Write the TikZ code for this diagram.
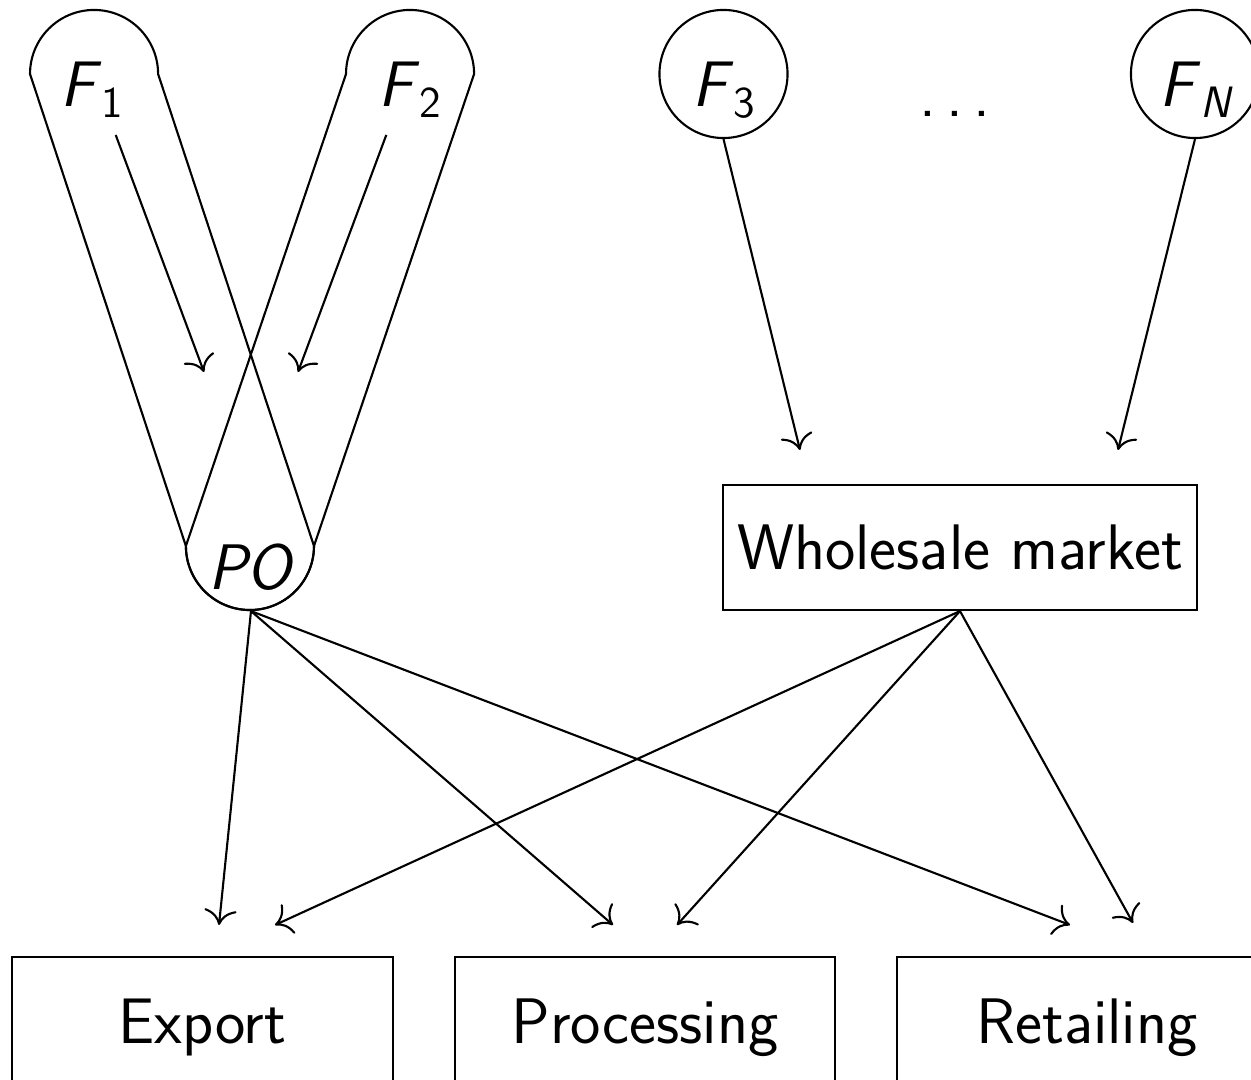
\documentclass[tikz,border=0pt]{standalone}
\usetikzlibrary{arrows.meta}
\newcommand\FF[1]{\textit{F}\raisebox{-0.17em}{\fontsize{12.5}{14}\selectfont #1}}
\begin{document}
\begin{tikzpicture}[x=0.01cm,y=0.01cm,line width=0.6pt,>={To[scale=1.5]},
  every node/.style={font=\fontsize{18.3}{22}\selectfont\sffamily},
  fnode/.style={circle,minimum size=1.28cm,inner sep=0pt},
  lab/.style={anchor=base,inner sep=0pt},
  outbox/.style={draw,minimum width=3.8cm,minimum height=1.56cm,inner sep=0pt,text height=0.7em,text depth=0.2em}]
\useasboundingbox (0,0) rectangle (1251,-1080);
% farmer circles
\node[fnode] (F1) at (93,-74) {};
\node[fnode] (F2) at (409,-74) {};
\node[fnode] (PO) at (251,-546) {};
\node[fnode,draw] (F3) at (723.5,-74) {};
\node[fnode,draw] (FN) at (1195,-74) {};
% labels
\node[lab] (F1t) at (92,-107) {\FF{1}};
\node[lab] (F2t) at (410,-107) {\FF{2}};
\node[lab] (F3t) at (724,-107) {\FF{3}};
\node[lab] (FNt) at (1196,-107) {\FF{\textit{N}}};
\node[lab] (POt) at (252,-590) {\textit{PO}};
\node[lab] (dots) at (955,-117) {.\kern3pt.\kern3pt.};
% capsules
\draw (F1.east) arc[start angle=0,end angle=180,radius=0.64cm] -- (PO.west)
      arc[start angle=180,end angle=360,radius=0.64cm] -- cycle;
\draw (F2.east) arc[start angle=0,end angle=180,radius=0.64cm] -- (PO.west)
      arc[start angle=180,end angle=360,radius=0.64cm] -- cycle;
% wholesale market
\node[draw,minimum width=4.74cm,minimum height=1.25cm,inner sep=0pt] (WM) at (960,-547.5) {Wholesale market};
% outlets
\node[outbox] (EX) at (202.5,-1035) {Export};
\node[outbox] (PR) at (645,-1035) {Processing};
\node[outbox] (RE) at (1087,-1035) {Retailing};
% arrow end points
\coordinate (a1) at (204,-372);
\coordinate (a2) at (298,-372);
\coordinate (w1) at (800,-450);
\coordinate (w2) at (1118,-450);
\coordinate (ex1) at (219,-925);
\coordinate (ex2) at (275,-925);
\coordinate (pr1) at (613,-925);
\coordinate (pr2) at (677,-925);
\coordinate (re1) at (1070,-925);
\coordinate (re2) at (1133,-923);
\draw[->] (F1) -- (a1);
\draw[->] (F2) -- (a2);
\draw[->] (F3.south) -- (w1);
\draw[->] (FN.south) -- (w2);
\draw[->] (PO.south) -- (ex1);
\draw[->] (PO.south) -- (pr1);
\draw[->] (PO.south) -- (re1);
\draw[->] (WM.south) -- (ex2);
\draw[->] (WM.south) -- (pr2);
\draw[->] (WM.south) -- (re2);
\end{tikzpicture}
\end{document}
